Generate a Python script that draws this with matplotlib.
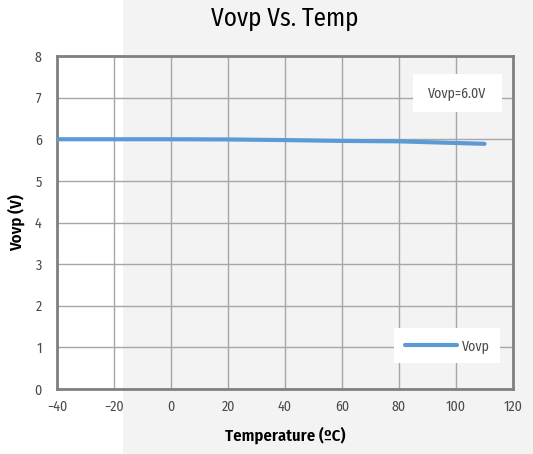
import matplotlib
matplotlib.use('Agg')
from matplotlib import pyplot as plt
from matplotlib import font_manager
from matplotlib.patches import Rectangle

# Vovp vs temperature
temps = [-40, -20, 0, 20, 40, 60, 80, 100, 110]
vovp = [6.00, 6.00, 6.00, 5.995, 5.98, 5.96, 5.95, 5.91, 5.89]
x_ticks = [-40, -20, 0, 20, 40, 60, 80, 100, 120]
y_ticks = [0, 1, 2, 3, 4, 5, 6, 7, 8]

names = {f.name for f in font_manager.fontManager.ttflist}
prefs = ['Myriad Pro Cond', 'Fira Sans Condensed', 'PT Sans Narrow', 'Roboto Condensed',
         'Liberation Sans Narrow', 'Arial Narrow']
main = next((p for p in prefs if p in names), None)
fam = [main, 'DejaVu Sans'] if main else ['DejaVu Sans']
plt.rcParams['font.family'] = fam

fig = plt.figure(figsize=(5.33, 4.54), dpi=100)
fig.patch.set_facecolor('white')
# faint watermark background
fig.patches.append(Rectangle((123 / 533, 0), 1, 1, transform=fig.transFigure,
                             facecolor='#f3f3f3', edgecolor='none', zorder=-10))

ax = fig.add_axes([57 / 533, 1 - 389 / 454, 456 / 533, 333 / 454])
ax.set_facecolor('none')
ax.plot(temps, vovp, color='#5b9bd5', linewidth=3, solid_capstyle='round', label='Vovp', zorder=3)

ax.set_xlim(-40, 120)
ax.set_ylim(0, 8)
ax.set_xticks(x_ticks)
ax.set_yticks(y_ticks)
ax.grid(True, color='#a6a6a6', linewidth=1)
ax.set_axisbelow(True)
for s in ax.spines.values():
    s.set_color('#808080')
    s.set_linewidth(2)
ax.tick_params(length=0, labelsize=10, colors='#4a4a4a', pad=8)
ax.tick_params(axis='y', pad=11)

ax.set_title('Vovp Vs. Temp', fontsize=18, pad=22, color='black')
ax.set_xlabel('Temperature (ºC)', fontsize=12, fontweight='semibold', labelpad=9)
ax.set_ylabel('Vovp (V)', fontsize=12, fontweight='semibold', labelpad=7)

# note box
ax.add_patch(Rectangle((0.781, 0.832), 0.195, 0.114, transform=ax.transAxes,
                       facecolor='white', edgecolor='none', zorder=4))
ax.text(0.877, 0.889, 'Vovp=6.0V', transform=ax.transAxes, ha='center', va='center',
        fontsize=10, color='#4a4a4a', zorder=5)

leg = ax.legend(loc='lower right', bbox_to_anchor=(0.971, 0.078), borderaxespad=0,
                fontsize=10, frameon=True, fancybox=False, handlelength=3.8,
                handletextpad=0.3, borderpad=0.75)
leg.get_frame().set_edgecolor('none')
leg.get_frame().set_facecolor('white')
leg.get_frame().set_alpha(1)
for t in leg.get_texts():
    t.set_color('#4a4a4a')

fig.savefig('out.png', dpi=100)
